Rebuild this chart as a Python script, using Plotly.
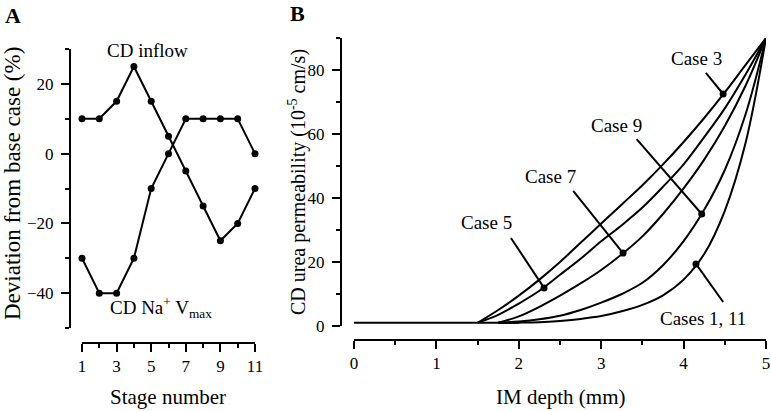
import plotly.graph_objects as go

W, H = 771, 411

# ---------- Panel A data ----------
stages = [1, 2, 3, 4, 5, 6, 7, 8, 9, 10, 11]
cd_inflow = [10, 10, 15, 25, 15, 5, -5, -15, -25, -20, -10]
cd_na_vmax = [-30, -40, -40, -30, -10, 0, 10, 10, 10, 10, 0]

# ---------- Panel B data ----------
baseline_x = [0, 1.5, 2.0]
baseline_y = [1, 1, 1]

case3_x = [1.5, 1.75, 2.0, 2.25, 2.5, 2.75, 3.0, 3.25, 3.5, 3.75, 4.0, 4.25, 4.5, 4.75, 5.0]
case3_y = [1, 5, 9.5, 14.5, 20, 26, 32, 38, 44, 50.5, 57.5, 65, 73, 81.5, 90]

case5_x = [1.5, 1.75, 2.0, 2.25, 2.5, 2.75, 3.0, 3.25, 3.5, 3.75, 4.0, 4.25, 4.5, 4.75, 5.0]
case5_y = [1, 3.5, 7, 11, 16, 21, 26.5, 31.5, 37, 43.5, 50.5, 59, 68, 78.5, 90]

case7_x = [1.75, 2.0, 2.25, 2.5, 2.75, 3.0, 3.25, 3.5, 3.75, 4.0, 4.25, 4.5, 4.75, 5.0]
case7_y = [1, 3, 6, 9.5, 13.3, 17.5, 22.4, 28, 35, 43, 52, 62.5, 75, 90]

case9_x = [1.75, 2.0, 2.25, 2.5, 2.75, 3.0, 3.25, 3.5, 3.75, 4.0, 4.25, 4.5, 4.75, 5.0]
case9_y = [1, 1.4, 2.1, 3.2, 5, 7.3, 10, 13.5, 19, 26.5, 36.3, 48.75, 66, 90]

case1_x = [1.75, 2.0, 2.25, 2.5, 2.75, 3.0, 3.25, 3.5, 3.75, 4.0, 4.25, 4.5, 4.75, 5.0]
case1_y = [1, 1.05, 1.2, 1.6, 2.2, 3.1, 4.6, 6.6, 9.6, 14.5, 22.5, 36, 57, 90]

curves = [(case3_x, case3_y), (case5_x, case5_y), (case7_x, case7_y),
          (case9_x, case9_y), (case1_x, case1_y)]

# callouts: label, label position, leader start, marked point on curve
callout_labels = ["Case 3", "Case 9", "Case 7", "Case 5", "Cases 1, 11"]
callout_text_x = [4.16, 3.19, 2.38, 1.61, 4.24]
callout_text_y = [83.75, 62.8, 46.6, 32.5, 2.5]
leader_x0 = [4.27, 3.43, 2.66, 1.905, 4.48]
leader_y0 = [79.1, 58.4, 42.2, 27.5, 7.5]
point_x = [4.48, 4.22, 3.265, 2.306, 4.15]
point_y = [72.5, 35, 22.8, 11.9, 19.4]

FONT = "Liberation Serif, Times New Roman, serif"
BLACK = "black"

def px(x):
    return x / W

def py(y):
    return 1 - y / H

fig = go.Figure()

# Panel A traces
for ys in (cd_inflow, cd_na_vmax):
    fig.add_trace(go.Scatter(
        x=stages, y=ys, mode="lines+markers",
        line=dict(color=BLACK, width=2),
        marker=dict(color=BLACK, size=7),
        cliponaxis=False, xaxis="x", yaxis="y", showlegend=False))

# Panel B traces
fig.add_trace(go.Scatter(
    x=baseline_x, y=baseline_y, mode="lines",
    line=dict(color=BLACK, width=2), cliponaxis=False,
    xaxis="x2", yaxis="y2", showlegend=False))
for cx, cy in curves:
    fig.add_trace(go.Scatter(
        x=cx, y=cy, mode="lines",
        line=dict(color=BLACK, width=2, shape="spline", smoothing=1.0),
        cliponaxis=False, xaxis="x2", yaxis="y2", showlegend=False))

for i in range(len(callout_labels)):
    fig.add_trace(go.Scatter(
        x=[leader_x0[i], point_x[i]], y=[leader_y0[i], point_y[i]],
        mode="lines", line=dict(color=BLACK, width=2),
        cliponaxis=False, xaxis="x2", yaxis="y2", showlegend=False))
fig.add_trace(go.Scatter(
    x=point_x, y=point_y, mode="markers",
    marker=dict(color=BLACK, size=7), cliponaxis=False,
    xaxis="x2", yaxis="y2", showlegend=False))

def ann(x, y, text, size, xref="paper", yref="paper", angle=0):
    return dict(x=x, y=y, xref=xref, yref=yref, text=text, showarrow=False,
                xanchor="center", yanchor="middle", textangle=angle,
                font=dict(family=FONT, size=size, color=BLACK))

annotations = []
for i, lab in enumerate(callout_labels):
    annotations.append(ann(callout_text_x[i], callout_text_y[i], lab, 19, "x2", "y2"))

annotations += [
    ann(4.76, 29.7, "CD inflow", 19, "x", "y"),
    ann(5.57, -44, "CD Na<sup>+</sup> V<sub>max</sub>", 19, "x", "y"),
    ann(px(13), py(16), "<b>A</b>", 22),
    ann(px(297), py(14), "<b>B</b>", 22),
    ann(px(12), py(184), "Deviation from base case (%)", 23, angle=-90),
    ann(px(168), py(397), "Stage number", 21),
    ann(px(297), py(182), "CD urea permeability (10<sup>-5</sup> cm/s)", 20, angle=-90),
    ann(px(560), py(397), "IM depth (mm)", 21),
]

axis_common = dict(
    showline=True, linecolor=BLACK, linewidth=2, showgrid=False, zeroline=False,
    ticks="outside", ticklen=8, tickwidth=2, tickcolor=BLACK,
    tickfont=dict(family=FONT, size=17, color=BLACK), fixedrange=True,
)
minor_common = dict(ticks="outside", ticklen=4, tickwidth=2, tickcolor=BLACK, showgrid=False)

fig.update_layout(
    width=W, height=H, margin=dict(l=0, r=0, t=0, b=0, autoexpand=False),
    paper_bgcolor="white", plot_bgcolor="rgba(0,0,0,0)",
    showlegend=False, annotations=annotations,
    xaxis=dict(domain=[px(82), px(255)], range=[1, 11], anchor="free",
               position=py(343), tick0=1, dtick=2,
               minor=dict(dtick=1, **minor_common), **axis_common),
    yaxis=dict(domain=[py(328), py(49)], range=[-50, 30], anchor="free",
               position=px(70), tick0=0, dtick=20, ticklabelstandoff=4,
               minor=dict(dtick=10, **minor_common), **axis_common),
    xaxis2=dict(domain=[px(354), px(766)], range=[0, 5], anchor="free",
                position=py(340), tick0=0, dtick=1,
                minor=dict(dtick=0.5, **minor_common), **axis_common),
    yaxis2=dict(domain=[py(326), py(38)], range=[0, 90], anchor="free",
                position=px(341), tick0=0, dtick=20, ticklabelstandoff=4,
                minor=dict(dtick=10, **minor_common), **axis_common),
)

fig.write_html("out.html", config={"displayModeBar": False},
               post_script="document.body.style.margin='0';document.body.style.padding='0';")
